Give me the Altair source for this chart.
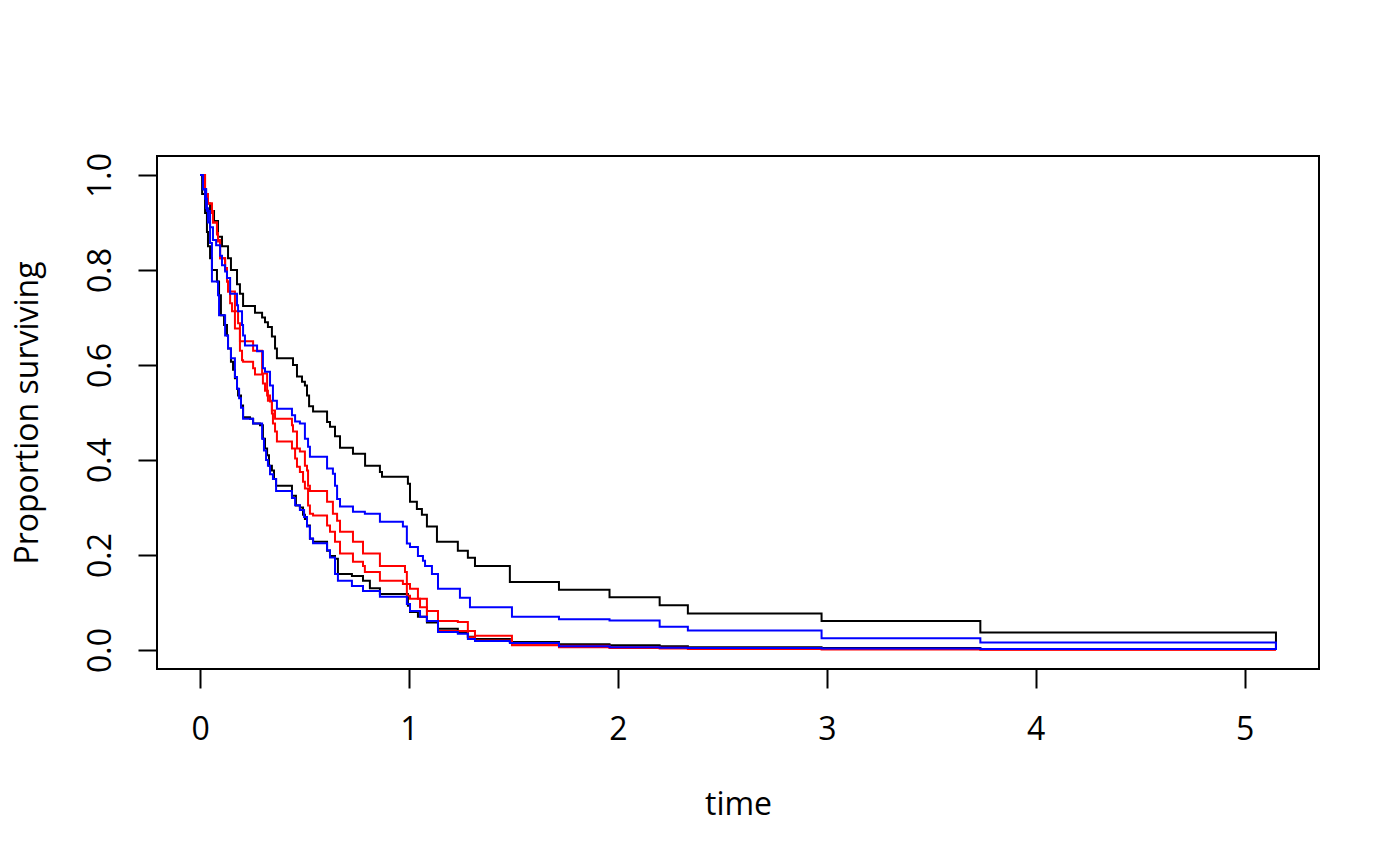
import altair as alt
import pandas as pd

# ---- data (step survival curves) ----
# black, upper curve
bu_time = [0, .014, .029, .048, .067, .086, .105, .134, .148, .177, .191, .206, .263, .297, .311, .325,
           .344, .359, .368, .445, .464, .488, .502, .512, .522, .541, .608, .622, .646, .670, .732, .790,
           .861, .871, .995, 1.005, 1.038, 1.062, 1.086, 1.134, 1.234, 1.282, 1.316, 1.483, 1.718, 1.960,
           2.200, 2.335, 2.975, 3.735, 5.150]
bu_surv = [1, .97, .94, .924, .903, .87, .85, .825, .80, .77, .75, .724, .71, .70, .69, .68,
           .66, .635, .614, .60, .576, .565, .557, .536, .513, .502, .48, .47, .45, .426, .413, .388,
           .375, .365, .35, .312, .297, .285, .26, .228, .209, .194, .177, .143, .127, .111,
           .094, .077, .061, .037, 0]

# black, lower curve
bl_time = [0, .010, .024, .033, .038, .048, .057, .081, .091, .100, .115, .129, .134, .148, .158, .167,
           .177, .182, .196, .206, .239, .254, .287, .301, .311, .321, .330, .344, .354, .364, .440, .459,
           .478, .493, .502, .512, .526, .541, .608, .622, .646, .660, .727, .780, .813, .861, .995, 1.005,
           1.043, 1.086, 1.139, 1.234, 1.282, 1.316, 1.483, 1.718, 1.960, 2.200, 2.335, 2.975, 3.735, 5.150]
bl_surv = [1, .96, .92, .88, .85, .825, .80, .776, .747, .705, .684, .662, .635, .607, .59, .572,
           .55, .536, .515, .49, .487, .477, .473, .445, .424, .41, .388, .378, .36, .346, .325, .304,
           .30, .285, .276, .262, .234, .228, .209, .198, .192, .16, .156, .146, .13, .118, .093, .08,
           .07, .058, .045, .037, .028, .023, .017, .012, .010, .008, .006, .004, .002, 0]

# red, upper curve
ru_time = [0, .024, .038, .057, .062, .081, .086, .096, .120, .129, .134, .167, .182, .191, .254, .297,
           .321, .335, .344, .359, .440, .445, .464, .478, .502, .512, .517, .526, .608, .636, .656, .670,
           .732, .780, .861, .981, .990, 1.005, 1.043, 1.086, 1.139, 1.234, 1.282, 1.316, 1.493, 1.718,
           1.960, 2.200, 2.335, 2.975, 3.735, 5.150]
ru_surv = [1, .96, .94, .924, .90, .878, .863, .825, .804, .776, .755, .713, .688, .65, .63, .582,
           .536, .523, .504, .487, .473, .46, .424, .418, .388, .378, .346, .335, .312, .287, .272, .249,
           .228, .203, .177, .164, .139, .129, .108, .082, .061, .059, .04, .03, .013, .009,
           .006, .005, .004, .002, .001, 0]

# red, lower curve
rl_time = [0, .024, .038, .057, .062, .081, .086, .096, .120, .129, .134, .144, .153, .167, .191, .201,
           .206, .254, .263, .301, .311, .325, .344, .349, .359, .368, .440, .455, .464, .478, .493, .502,
           .517, .526, .541, .608, .622, .646, .670, .732, .780, .789, .861, .971, .990, 1.005, 1.053,
           1.086, 1.139, 1.282, 1.316, 1.493, 1.718, 1.960, 2.200, 2.335, 2.975, 3.735, 5.150]
rl_surv = [1, .96, .94, .92, .90, .875, .86, .825, .80, .776, .755, .73, .713, .677, .63, .61,
           .607, .593, .58, .561, .546, .525, .498, .477, .46, .439, .424, .403, .386, .375, .354, .34,
           .304, .287, .283, .262, .249, .228, .203, .186, .177, .164, .146, .139, .114, .108, .09,
           .061, .04, .027, .02, .010, .006, .004, .003, .002, .001, .0005, 0]

# blue, upper curve
bp_time = [0, .014, .024, .033, .048, .062, .077, .096, .105, .120, .129, .144, .177, .182, .201, .206,
           .215, .273, .301, .311, .335, .349, .368, .440, .455, .478, .502, .517, .526, .608, .636, .646,
           .656, .670, .732, .789, .861, .971, .990, 1.005, 1.043, 1.067, 1.077, 1.110, 1.139, 1.244,
           1.292, 1.493, 1.718, 1.960, 2.200, 2.335, 2.975, 3.735, 5.150]
bp_surv = [1, .97, .95, .924, .89, .863, .852, .83, .81, .797, .783, .75, .726, .713, .684, .662,
           .641, .629, .593, .586, .557, .525, .508, .494, .481, .477, .445, .428, .407, .382, .371, .346,
           .318, .302, .291, .287, .27, .26, .224, .217, .198, .188, .177, .16, .129, .11,
           .09, .07, .065, .062, .049, .041, .025, .016, 0]

# blue, lower curve
bw_time = [0, .014, .029, .038, .048, .057, .086, .091, .120, .134, .148, .167, .177, .187, .196, .206,
           .254, .297, .306, .316, .325, .335, .349, .364, .440, .455, .478, .498, .512, .526, .541, .608,
           .622, .646, .660, .727, .780, .861, .990, 1.005, 1.053, 1.086, 1.139, 1.234, 1.282, 1.316,
           1.483, 1.718, 1.960, 2.200, 2.335, 2.975, 3.735, 5.150]
bw_surv = [1, .97, .93, .90, .857, .776, .747, .705, .662, .635, .614, .575, .55, .53, .51, .487,
           .477, .445, .42, .40, .388, .37, .36, .335, .32, .305, .295, .28, .26, .235, .225, .21,
           .195, .16, .146, .135, .124, .112, .097, .082, .07, .061, .038, .034, .023, .019,
           .015, .008, .006, .005, .004, .003, .002, 0]

curves = [
    ("black upper", bu_time, bu_surv, "#000000"),
    ("black lower", bl_time, bl_surv, "#000000"),
    ("red upper", ru_time, ru_surv, "#FF0000"),
    ("red lower", rl_time, rl_surv, "#FF0000"),
    ("blue upper", bp_time, bp_surv, "#0000FF"),
    ("blue lower", bw_time, bw_surv, "#0000FF"),
]

x_ticks = [0, 1, 2, 3, 4, 5]
y_ticks = [0.0, 0.2, 0.4, 0.6, 0.8, 1.0]

FONT = "Open Sans"
W, H = 1162, 513

x_scale = alt.Scale(domain=[-0.206, 5.356], nice=False, zero=False)
y_scale = alt.Scale(domain=[-0.04, 1.04], nice=False, zero=False)

x_axis = alt.Axis(values=x_ticks, format="d", domain=False, grid=False,
                  tickSize=19, tickWidth=2, tickColor="black",
                  labelFont=FONT, labelFontSize=32, labelColor="black",
                  labelPadding=51, labelBaseline="alphabetic", labelFlush=False, labelOverlap=False,
                  title="time", titleFont=FONT, titleFontSize=32, titleFontWeight="normal",
                  titleColor="black", titleX=W / 2, titleY=145, titleAlign="center",
                  titleBaseline="alphabetic")
y_axis = alt.Axis(values=y_ticks, format=".1f", domain=False, grid=False,
                  tickSize=19, tickWidth=2, tickColor="black",
                  labelFont=FONT, labelFontSize=32, labelColor="black",
                  labelAngle=270, labelAlign="center", labelBaseline="alphabetic",
                  labelPadding=27.5, labelFlush=False, labelOverlap=False,
                  title="Proportion surviving", titleFont=FONT, titleFontSize=32,
                  titleFontWeight="normal", titleColor="black", titleAngle=270,
                  titleX=-120, titleY=H / 2, titleAlign="center", titleBaseline="alphabetic")

layers = []
for name, t, s, col in curves:
    assert len(t) == len(s), (name, len(t), len(s))
    df = pd.DataFrame({"time": t, "surv": s, "curve": name})
    layers.append(
        alt.Chart(df).mark_line(interpolate="step-after", color=col, strokeWidth=2)
        .encode(x=alt.X("time:Q", scale=x_scale, axis=x_axis),
                y=alt.Y("surv:Q", scale=y_scale, axis=y_axis),
                order="time:Q")
    )

chart = alt.layer(*layers).properties(
    width=W, height=H,
    autosize=alt.AutoSizeParams(type="none"),
    padding={"left": 149, "top": 148, "right": 60, "bottom": 180},
    background="white",
).configure_view(stroke="black", strokeWidth=2)

chart.save("out.html", embed_options={"renderer": "svg", "actions": False})
